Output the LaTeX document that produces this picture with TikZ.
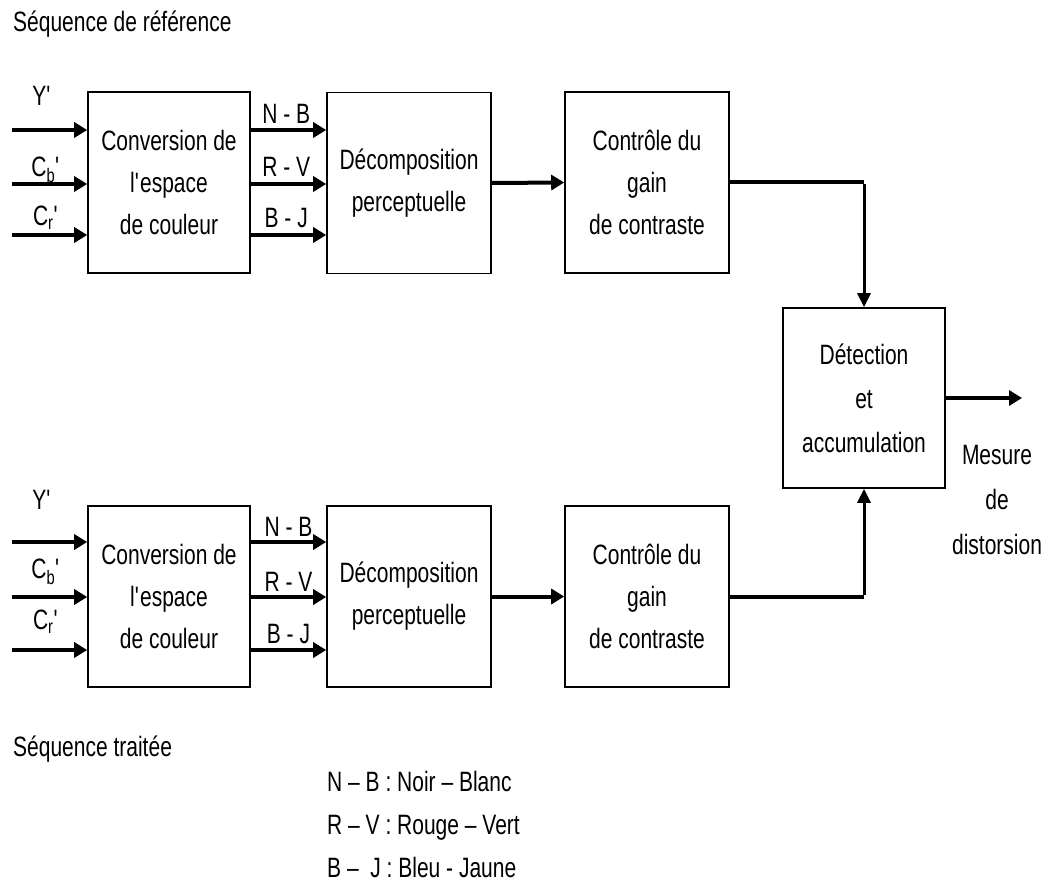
\documentclass[tikz,border=0pt]{standalone}
\usepackage{fontspec}
\setmainfont[FakeStretch=0.75]{Liberation Sans}
\usetikzlibrary{arrows.meta,calc}
\tikzset{
  blk/.style={draw, line width=1.6pt, minimum width=162pt, minimum height=181pt, align=center, inner sep=0pt,
    font=\fontsize{28}{42}\selectfont},
  arr/.style={line width=4pt, -{Triangle[length=13pt,width=15pt]}},
  varr/.style={line width=3pt, -{Triangle[length=14pt,width=13pt]}},
  hline/.style={line width=4pt},
  lbl/.style={inner sep=0pt, font=\fontsize{28}{42}\selectfont},
}
\begin{document}
\begin{tikzpicture}[x=1pt, y=-1pt]
\useasboundingbox (0,0) rectangle (1048,882);
% top row
\node[blk] (conv1) at (169,182.5) {Conversion de\\l\textquotesingle espace\\de couleur};
\node[blk, minimum width=164pt] (dec1) at (409,183) {Décomposition\\perceptuelle};
\node[blk, minimum width=164pt] (ctl1) at (647,182.5) {Contrôle du\\gain\\de contraste};
% bottom row
\node[blk] (conv2) at (169,596.5) {Conversion de\\l\textquotesingle espace\\de couleur};
\node[blk, minimum width=164pt] (dec2) at (409,596.5) {Décomposition\\perceptuelle};
\node[blk, minimum width=164pt] (ctl2) at (647,596.5) {Contrôle du\\gain\\de contraste};
% detection
\node[blk, minimum height=180pt, font=\fontsize{28}{44}\selectfont] (det) at (864,398) {Détection\\et\\accumulation};
% texts
\node[lbl, anchor=base west] (t1) at (13,32) {Séquence de référence};
\node[lbl, anchor=base west] (t2) at (13,756) {Séquence traitée};
\node[lbl, anchor=north west, align=left, font=\fontsize{28}{43}\selectfont] (leg) at (327,771)
  {N – B : Noir – Blanc\\R – V : Rouge – Vert\\B –~ J : Bleu - Jaune};
\node[lbl, align=center, font=\fontsize{28}{45}\selectfont] (mes) at (997,500) {Mesure\\de\\distorsion};
% level coordinates
\coordinate (a1) at (12,130);
\coordinate (a2) at (12,184);
\coordinate (a3) at (12,235);
\coordinate (b1) at (12,542);
\coordinate (b2) at (12,597);
\coordinate (b3) at (12,650);
\coordinate (out) at (1022,398);
% input labels
\node[lbl] (y1) at (42,96) {Y\textquotesingle};
\node[lbl] (cb1) at (46,170) {C\textsubscript{b}\textquotesingle};
\node[lbl] (cr1) at (46,218) {C\textsubscript{r}\textquotesingle};
\node[lbl] (y2) at (42,500) {Y\textquotesingle};
\node[lbl] (cb2) at (46,572) {C\textsubscript{b}\textquotesingle};
\node[lbl] (cr2) at (46,622) {C\textsubscript{r}\textquotesingle};
% input arrows
\draw[arr] (a1) -- (conv1.west |- a1);
\draw[arr] (a2) -- (conv1.west |- a2);
\draw[arr] (a3) -- (conv1.west |- a3);
\draw[arr] (b1) -- (conv2.west |- b1);
\draw[arr] (b2) -- (conv2.west |- b2);
\draw[arr] (b3) -- (conv2.west |- b3);
% conversion -> decomposition
\draw[arr] (conv1.east |- a1) -- (dec1.west |- a1) node[lbl, pos=0.47, above=4pt] {N - B};
\draw[arr] (conv1.east |- a2) -- (dec1.west |- a2) node[lbl, pos=0.47, above=5pt] {R - V};
\draw[arr] (conv1.east |- a3) -- (dec1.west |- a3) node[lbl, pos=0.47, above=5pt] {B - J};
\draw[arr] (conv2.east |- b1) -- (dec2.west |- b1) node[lbl, pos=0.5, above=4pt] {N - B};
\draw[arr] (conv2.east |- b2) -- (dec2.west |- b2) node[lbl, pos=0.5, above=4pt] {R - V};
\draw[arr] (conv2.east |- b3) -- (dec2.west |- b3) node[lbl, pos=0.5, above=4pt] {B - J};
% decomposition -> control
\draw[arr] (dec1.east) -- (ctl1.west);
\draw[arr] (dec2.east) -- (ctl2.west);
% control -> detection
\draw[hline] (ctl1.east) -- (ctl1.east -| det.north);
\draw[varr] ([yshift=-1.5pt]ctl1.east -| det.north) -- (det.north);
\draw[hline] (ctl2.east) -- (ctl2.east -| det.south);
\draw[varr] ([yshift=1.5pt]ctl2.east -| det.south) -- (det.south);
% output
\draw[arr] (det.east) -- (out);
\end{tikzpicture}
\end{document}
